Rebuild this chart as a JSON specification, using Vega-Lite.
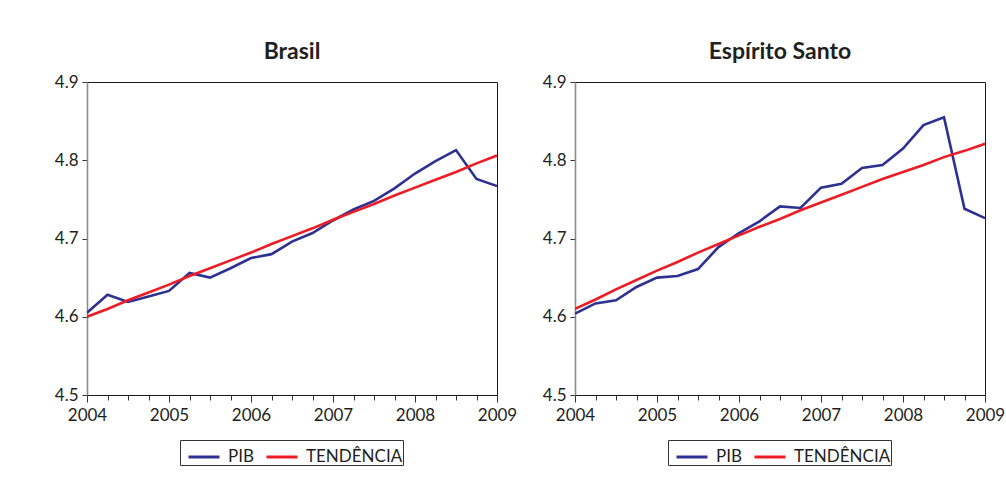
{
  "$schema": "https://vega.github.io/schema/vega-lite/v6.json",
  "autosize": "none",
  "padding": {"left": 87, "top": 82, "right": 919, "bottom": 398},
  "background": "white",
  "config": {
    "font": "Lato",
    "view": {"stroke": "#1a1a1a", "strokeWidth": 1},
    "axis": {
      "labelFont": "Lato",
      "labelFontSize": 17,
      "labelColor": "#231f20",
      "tickColor": "#333333",
      "labelFlush": false,
      "labelOverlap": false,
      "grid": false,
      "title": null
    },
    "legend": {
      "labelFont": "Lato",
      "labelFontSize": 17,
      "labelColor": "#231f20",
      "title": null,
      "orient": "none",
      "direction": "horizontal",
      "strokeColor": "#333333",
      "padding": 0,
      "symbolType": "stroke",
      "symbolSize": 961,
      "symbolStrokeWidth": 3,
      "symbolOffset": 7,
      "labelOffset": 7,
      "columnPadding": 4
    }
  },
  "datasets": {
    "pib": [
      {"regiao": "Brasil", "ano": 2004.00, "serie": "PIB", "valor": 4.605},
      {"regiao": "Brasil", "ano": 2004.25, "serie": "PIB", "valor": 4.628},
      {"regiao": "Brasil", "ano": 2004.50, "serie": "PIB", "valor": 4.619},
      {"regiao": "Brasil", "ano": 2004.75, "serie": "PIB", "valor": 4.626},
      {"regiao": "Brasil", "ano": 2005.00, "serie": "PIB", "valor": 4.633},
      {"regiao": "Brasil", "ano": 2005.25, "serie": "PIB", "valor": 4.656},
      {"regiao": "Brasil", "ano": 2005.50, "serie": "PIB", "valor": 4.650},
      {"regiao": "Brasil", "ano": 2005.75, "serie": "PIB", "valor": 4.662},
      {"regiao": "Brasil", "ano": 2006.00, "serie": "PIB", "valor": 4.675},
      {"regiao": "Brasil", "ano": 2006.25, "serie": "PIB", "valor": 4.680},
      {"regiao": "Brasil", "ano": 2006.50, "serie": "PIB", "valor": 4.696},
      {"regiao": "Brasil", "ano": 2006.75, "serie": "PIB", "valor": 4.707},
      {"regiao": "Brasil", "ano": 2007.00, "serie": "PIB", "valor": 4.723},
      {"regiao": "Brasil", "ano": 2007.25, "serie": "PIB", "valor": 4.737},
      {"regiao": "Brasil", "ano": 2007.50, "serie": "PIB", "valor": 4.748},
      {"regiao": "Brasil", "ano": 2007.75, "serie": "PIB", "valor": 4.764},
      {"regiao": "Brasil", "ano": 2008.00, "serie": "PIB", "valor": 4.783},
      {"regiao": "Brasil", "ano": 2008.25, "serie": "PIB", "valor": 4.799},
      {"regiao": "Brasil", "ano": 2008.50, "serie": "PIB", "valor": 4.813},
      {"regiao": "Brasil", "ano": 2008.75, "serie": "PIB", "valor": 4.776},
      {"regiao": "Brasil", "ano": 2009.00, "serie": "PIB", "valor": 4.767},

      {"regiao": "Brasil", "ano": 2004.00, "serie": "TENDÊNCIA", "valor": 4.600},
      {"regiao": "Brasil", "ano": 2004.25, "serie": "TENDÊNCIA", "valor": 4.610},
      {"regiao": "Brasil", "ano": 2004.50, "serie": "TENDÊNCIA", "valor": 4.621},
      {"regiao": "Brasil", "ano": 2004.75, "serie": "TENDÊNCIA", "valor": 4.631},
      {"regiao": "Brasil", "ano": 2005.00, "serie": "TENDÊNCIA", "valor": 4.641},
      {"regiao": "Brasil", "ano": 2005.25, "serie": "TENDÊNCIA", "valor": 4.652},
      {"regiao": "Brasil", "ano": 2005.50, "serie": "TENDÊNCIA", "valor": 4.662},
      {"regiao": "Brasil", "ano": 2005.75, "serie": "TENDÊNCIA", "valor": 4.672},
      {"regiao": "Brasil", "ano": 2006.00, "serie": "TENDÊNCIA", "valor": 4.682},
      {"regiao": "Brasil", "ano": 2006.25, "serie": "TENDÊNCIA", "valor": 4.693},
      {"regiao": "Brasil", "ano": 2006.50, "serie": "TENDÊNCIA", "valor": 4.703},
      {"regiao": "Brasil", "ano": 2006.75, "serie": "TENDÊNCIA", "valor": 4.713},
      {"regiao": "Brasil", "ano": 2007.00, "serie": "TENDÊNCIA", "valor": 4.724},
      {"regiao": "Brasil", "ano": 2007.25, "serie": "TENDÊNCIA", "valor": 4.734},
      {"regiao": "Brasil", "ano": 2007.50, "serie": "TENDÊNCIA", "valor": 4.744},
      {"regiao": "Brasil", "ano": 2007.75, "serie": "TENDÊNCIA", "valor": 4.755},
      {"regiao": "Brasil", "ano": 2008.00, "serie": "TENDÊNCIA", "valor": 4.765},
      {"regiao": "Brasil", "ano": 2008.25, "serie": "TENDÊNCIA", "valor": 4.775},
      {"regiao": "Brasil", "ano": 2008.50, "serie": "TENDÊNCIA", "valor": 4.785},
      {"regiao": "Brasil", "ano": 2008.75, "serie": "TENDÊNCIA", "valor": 4.796},
      {"regiao": "Brasil", "ano": 2009.00, "serie": "TENDÊNCIA", "valor": 4.806},

      {"regiao": "Espírito Santo", "ano": 2004.00, "serie": "PIB", "valor": 4.604},
      {"regiao": "Espírito Santo", "ano": 2004.25, "serie": "PIB", "valor": 4.617},
      {"regiao": "Espírito Santo", "ano": 2004.50, "serie": "PIB", "valor": 4.621},
      {"regiao": "Espírito Santo", "ano": 2004.75, "serie": "PIB", "valor": 4.638},
      {"regiao": "Espírito Santo", "ano": 2005.00, "serie": "PIB", "valor": 4.650},
      {"regiao": "Espírito Santo", "ano": 2005.25, "serie": "PIB", "valor": 4.652},
      {"regiao": "Espírito Santo", "ano": 2005.50, "serie": "PIB", "valor": 4.661},
      {"regiao": "Espírito Santo", "ano": 2005.75, "serie": "PIB", "valor": 4.689},
      {"regiao": "Espírito Santo", "ano": 2006.00, "serie": "PIB", "valor": 4.707},
      {"regiao": "Espírito Santo", "ano": 2006.25, "serie": "PIB", "valor": 4.722},
      {"regiao": "Espírito Santo", "ano": 2006.50, "serie": "PIB", "valor": 4.741},
      {"regiao": "Espírito Santo", "ano": 2006.75, "serie": "PIB", "valor": 4.739},
      {"regiao": "Espírito Santo", "ano": 2007.00, "serie": "PIB", "valor": 4.765},
      {"regiao": "Espírito Santo", "ano": 2007.25, "serie": "PIB", "valor": 4.770},
      {"regiao": "Espírito Santo", "ano": 2007.50, "serie": "PIB", "valor": 4.790},
      {"regiao": "Espírito Santo", "ano": 2007.75, "serie": "PIB", "valor": 4.794},
      {"regiao": "Espírito Santo", "ano": 2008.00, "serie": "PIB", "valor": 4.815},
      {"regiao": "Espírito Santo", "ano": 2008.25, "serie": "PIB", "valor": 4.845},
      {"regiao": "Espírito Santo", "ano": 2008.50, "serie": "PIB", "valor": 4.855},
      {"regiao": "Espírito Santo", "ano": 2008.75, "serie": "PIB", "valor": 4.738},
      {"regiao": "Espírito Santo", "ano": 2009.00, "serie": "PIB", "valor": 4.726},

      {"regiao": "Espírito Santo", "ano": 2004.00, "serie": "TENDÊNCIA", "valor": 4.610},
      {"regiao": "Espírito Santo", "ano": 2004.25, "serie": "TENDÊNCIA", "valor": 4.622},
      {"regiao": "Espírito Santo", "ano": 2004.50, "serie": "TENDÊNCIA", "valor": 4.635},
      {"regiao": "Espírito Santo", "ano": 2004.75, "serie": "TENDÊNCIA", "valor": 4.647},
      {"regiao": "Espírito Santo", "ano": 2005.00, "serie": "TENDÊNCIA", "valor": 4.659},
      {"regiao": "Espírito Santo", "ano": 2005.25, "serie": "TENDÊNCIA", "valor": 4.670},
      {"regiao": "Espírito Santo", "ano": 2005.50, "serie": "TENDÊNCIA", "valor": 4.682},
      {"regiao": "Espírito Santo", "ano": 2005.75, "serie": "TENDÊNCIA", "valor": 4.693},
      {"regiao": "Espírito Santo", "ano": 2006.00, "serie": "TENDÊNCIA", "valor": 4.704},
      {"regiao": "Espírito Santo", "ano": 2006.25, "serie": "TENDÊNCIA", "valor": 4.715},
      {"regiao": "Espírito Santo", "ano": 2006.50, "serie": "TENDÊNCIA", "valor": 4.725},
      {"regiao": "Espírito Santo", "ano": 2006.75, "serie": "TENDÊNCIA", "valor": 4.736},
      {"regiao": "Espírito Santo", "ano": 2007.00, "serie": "TENDÊNCIA", "valor": 4.746},
      {"regiao": "Espírito Santo", "ano": 2007.25, "serie": "TENDÊNCIA", "valor": 4.756},
      {"regiao": "Espírito Santo", "ano": 2007.50, "serie": "TENDÊNCIA", "valor": 4.766},
      {"regiao": "Espírito Santo", "ano": 2007.75, "serie": "TENDÊNCIA", "valor": 4.776},
      {"regiao": "Espírito Santo", "ano": 2008.00, "serie": "TENDÊNCIA", "valor": 4.785},
      {"regiao": "Espírito Santo", "ano": 2008.25, "serie": "TENDÊNCIA", "valor": 4.794},
      {"regiao": "Espírito Santo", "ano": 2008.50, "serie": "TENDÊNCIA", "valor": 4.804},
      {"regiao": "Espírito Santo", "ano": 2008.75, "serie": "TENDÊNCIA", "valor": 4.812},
      {"regiao": "Espírito Santo", "ano": 2009.00, "serie": "TENDÊNCIA", "valor": 4.821}
    ]
  },
  "data": {"name": "pib"},
  "bounds": "flush",
  "spacing": 78,
  "resolve": {"legend": {"color": "independent"}},
  "hconcat": [
    {
      "width": 410,
      "height": 313,
      "title": {"text": "Brasil", "font": "Lato", "fontSize": 23, "fontWeight": "bold", "color": "#231f20", "anchor": "middle", "offset": 9},
      "transform": [{"filter": "datum.regiao === 'Brasil'"}],
      "mark": {"type": "line", "strokeWidth": 2.6, "clip": true},
      "encoding": {
        "x": {
          "field": "ano", "type": "quantitative",
          "scale": {"domain": [2004, 2009], "nice": false, "zero": false},
          "axis": {
            "values": [2004, 2004.25, 2004.5, 2004.75, 2005, 2005.25, 2005.5, 2005.75, 2006, 2006.25, 2006.5, 2006.75, 2007, 2007.25, 2007.5, 2007.75, 2008, 2008.25, 2008.5, 2008.75, 2009],
            "labelExpr": "datum.value % 1 === 0 ? format(datum.value, 'd') : ''",
            "tickSize": {"condition": {"test": "datum.value % 1 === 0", "value": 7}, "value": 5},
            "labelPadding": 5,
            "domainColor": "#1a1a1a"
          }
        },
        "y": {
          "field": "valor", "type": "quantitative",
          "scale": {"domain": [4.5, 4.9], "nice": false, "zero": false},
          "axis": {"values": [4.5, 4.6, 4.7, 4.8, 4.9], "format": ".1f", "tickSize": 5, "labelPadding": 4, "domainColor": "#8a8a8a", "domainWidth": 1.6}
        },
        "color": {
          "field": "serie", "type": "nominal",
          "scale": {"domain": ["PIB", "TENDÊNCIA"], "range": ["#2e3192", "#ed1c24"]},
          "legend": {"legendX": 93, "legendY": 358}
        }
      }
    },
    {
      "width": 410,
      "height": 313,
      "title": {"text": "Espírito Santo", "font": "Lato", "fontSize": 23, "fontWeight": "bold", "color": "#231f20", "anchor": "middle", "offset": 9},
      "transform": [{"filter": "datum.regiao === 'Espírito Santo'"}],
      "mark": {"type": "line", "strokeWidth": 2.6, "clip": true},
      "encoding": {
        "x": {
          "field": "ano", "type": "quantitative",
          "scale": {"domain": [2004, 2009], "nice": false, "zero": false},
          "axis": {
            "values": [2004, 2004.25, 2004.5, 2004.75, 2005, 2005.25, 2005.5, 2005.75, 2006, 2006.25, 2006.5, 2006.75, 2007, 2007.25, 2007.5, 2007.75, 2008, 2008.25, 2008.5, 2008.75, 2009],
            "labelExpr": "datum.value % 1 === 0 ? format(datum.value, 'd') : ''",
            "tickSize": {"condition": {"test": "datum.value % 1 === 0", "value": 7}, "value": 5},
            "labelPadding": 5,
            "domainColor": "#1a1a1a"
          }
        },
        "y": {
          "field": "valor", "type": "quantitative",
          "scale": {"domain": [4.5, 4.9], "nice": false, "zero": false},
          "axis": {"values": [4.5, 4.6, 4.7, 4.8, 4.9], "format": ".1f", "tickSize": 5, "labelPadding": 4, "domainColor": "#8a8a8a", "domainWidth": 1.6}
        },
        "color": {
          "field": "serie", "type": "nominal",
          "scale": {"domain": ["PIB", "TENDÊNCIA"], "range": ["#2e3192", "#ed1c24"]},
          "legend": {"legendX": 93, "legendY": 358}
        }
      }
    }
  ]
}
